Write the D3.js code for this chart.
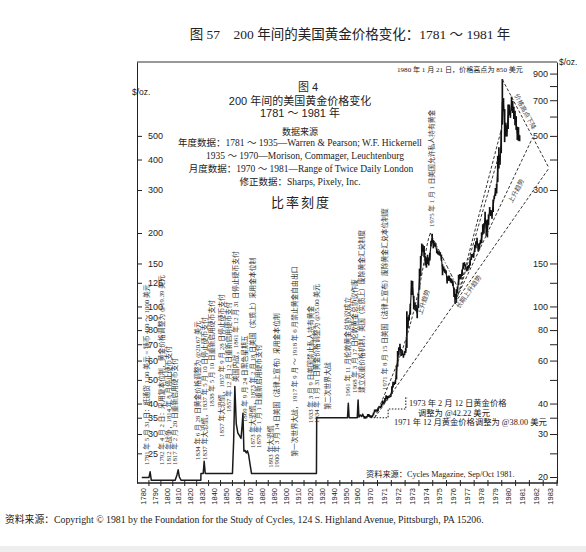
<!DOCTYPE html>
<html><head><meta charset="utf-8">
<script src="https://cdn.jsdelivr.net/npm/d3@7"></script>
<style>
body{margin:0;background:#fff}
svg{display:block}
.serif{font-family:"Liberation Serif","Noto Sans CJK SC",serif}
.sans{font-family:"Liberation Sans","Noto Sans CJK SC",sans-serif}
.axis text{font-family:"Liberation Sans",sans-serif;font-size:9px;fill:#222}
.axis path,.axis line{stroke:#222}
</style></head><body>
<script>
// price path 1780-1970, positions in the chart's own year scale
var annualYears  = [1784, 1790, 1791, 1792, 1812, 1813.5, 1814.5, 1815.5, 1817, 1833.5, 1833.6, 1835.5, 1836.3, 1837.2,
                    1860.0, 1861.0, 1862.0, 1863.2, 1864.5, 1866.0, 1867.2, 1868.2, 1868.8, 1869.6, 1870.6, 1871.6, 1872.6, 1873.6, 1874.8, 1876.0,
                    1930.4, 1930.6, 1956.4, 1957.1, 1957.8, 1964.6, 1965.3, 1966.0, 1967.2, 1968.3, 1969.2, 1970.0];
var annualPrices = [19.9, 19.9, 21.0, 19.39, 19.39, 20.4, 21.4, 20.0, 19.39, 19.39, 20.67, 20.67, 23.2, 20.67,
                    20.67, 28, 47, 33, 30.3, 29.5, 28.8, 33, 36.5, 25.5, 25.7, 25.1, 25.6, 24.6, 22.5, 20.67,
                    20.67, 35, 35, 40.1, 35, 35, 41.4, 35.2, 35.9, 35.4, 36.2, 35.2];

// monthly range Jan 1970 - Apr 1981
var monthlyLow = [
  34.9,34.9,35.0,35.5,35.5,35.3,35.1,35.3,36.0,37.0,37.3,37.3,
  37.5,38.5,38.5,38.9,39.9,40.1,40.6,42.0,41.5,42.3,42.5,42.8,
  44.0,46.8,47.9,48.4,50.5,57.0,63.5,67.0,63.0,63.6,62.0,63.5,
  64.9,68.0,82.0,88.0,93.0,112,112,98,97,96,90,99,
  118,134,162,168,160,148,145,150,148,155,177,183,
  174,177,176,166,164,163,162,155,135,140,138,137,
  125,128,128,126,125,122,110,103,104,114,123,130,
  130,134,143,147,143,140,141,144,148,156,160,159,
  168,174,181,169,172,181,183,198,200,219,196,193,
  217,240,236,230,245,277,285,292,325,370,383,427,
  559,635,474,500,500,536,610,596,637,624,590,556,
  532,484,480,478];
var monthlyHigh = [
  35.4,35.2,35.3,36.0,36.0,35.6,35.5,35.6,36.5,37.6,37.6,37.6,
  38.3,38.9,38.9,39.6,41.0,40.5,41.9,43.0,42.7,42.8,43.0,43.6,
  46.8,48.9,48.6,49.5,57.0,65.3,67.6,70.0,66.5,65.8,63.5,65.2,
  67.0,95.0,90.0,92.0,102,127,126.5,110,103,101,97.5,112,
  142,160,180,178,176,160,158,162,158,165,185,197.5,
  186,182,181,172,168,167,166,162,148,145,142,140,
  132,133,133,130,129,127,119,112,117,120,134,135,
  135,141,150,151,148,144,146,147,155,163,163,165,
  178,184,190,179,181,186,200,216,218,243,224,226,
  237,254,247,246,273,283,304,316,412,447,417,524,
  850,710,640,563,549,668,668,630,720,691,654,630,
  599,542,540,500];

var officialYears  = [1970.5, 1971.77, 1973.05, 1973.2];
var officialPrices = [35, 38, 42.22, 42.22];

var trendUp7174  = [[1970.8, 35], [1972.86, 68], [1973.93, 113], [1974.65, 185], [1974.82, 200]];
var trendDown    = [[1974.82, 200], [1976.7, 123]];
var trendLong    = [[1970.8, 35], [1983.42, 369]];
var trendUp76    = [[1976.6, 104.6], [1982.22, 490]];
var trendSteepA  = [[1976.85, 112], [1980.0, 540]];
var trendSteepB  = [[1977.0, 118], [1979.7, 400]];
var trendPeak    = [[1980.05, 850], [1983.42, 369]];

var decadeTicks = d3.range(1780, 1970, 10);
var yearTicks   = d3.range(1970, 1984);
var rightTicks  = [20,25,30,35,40,50,60,70,80,90,100,125,150,200,300,400,500,600,700,800,900];
var rightLabels = [20,30,40,60,80,100,150,300,500,700,900];
var leftTicks   = [25,30,35,40,50,60,70,80,90,100,125,150,200,300,400,500];

var noteTexts = [
  "1781 年 5 月 31 日：纸通货 1.00 美元 = 铸币 400 ～ 1000 美元",
  "1792 年 4 月 2 日：采用复本位制，黄金价格调整为 @19.39 美元",
  "1812 年战争，1814 年 8 月停止硬币支付",
  "1817 年 2 月 20 日重新启用硬币支付",
  "1834 年 6 月 28 日黄金价格调整为 @20.67 美元",
  "1837 年大恐慌，1837 年 5 月 10 日停止硬币支付",
  "1838 年 5 月 10 日重新启用硬币支付",
  "1857 年大恐慌，1857 年 9 月 28 日停止硬币支付",
  "1857 年 12 月 12 日重新启用硬币支付",
  "美国内战，1861 年 12 月 31 日停止硬币支付",
  "1869 年 9 月 24 日黑色星期五",
  "1873 年大恐慌，1873 年 2 月 18 日美国（实质上）采用金本位制",
  "1879 年 1 月 1 日重新启用硬币支付",
  "1893 年大恐慌",
  "1900 年 3 月 14 日美国（法律上宣布）采用金本位制",
  "第一次世界大战，1917 年 9 月 ～ 1918 年 6 月禁止黄金自由出口",
  "1933 年 3 月 9 日美国禁止私人持有黄金",
  "1934 年 1 月 31 日黄金价格调整为 @35.00 美元",
  "第二次世界大战",
  "1961 年 11 月伦敦黄金总协议成立",
  "1968 年 3 月 17 日伦敦黄金总协议作废",
  "建立双重价格机制，美国（实质上）废除黄金汇兑制度",
  "1971 年 8 月 15 日美国（法律上宣布）废除黄金汇兑本位制度",
  "1975 年 1 月 1 日美国允许私人持有黄金"];
var noteYears  = [1787.8, 1801.0, 1806.4, 1811.8, 1831.1, 1836.6, 1842.9, 1851.2, 1857.1, 1862.6, 1870.5, 1877.2,
                  1882.2, 1892.3, 1897.3, 1912.4, 1925.8, 1930.9, 1940.1, 1956.8, 1962.7, 1968.2, 1971.53, 1974.92];
var notePrices = [22.4, 22.4, 22.4, 22.4, 23.5, 23.5, 38.7, 29.2, 36.9, 49.0, 33.6, 26.3,
                  26.3, 21.8, 21.8, 24.2, 33.3, 33.3, 37.7, 42.6, 44.2, 44.2, 45.5, 211.7];

var W = 586, H = 552;
var svg = d3.select("body").append("svg").attr("width", W).attr("height", H);
svg.append("rect").attr("width", W).attr("height", H).attr("fill", "#fff");
svg.append("rect").attr("y", 546).attr("width", W).attr("height", 6).attr("fill", "#eeeeee");

var x = d3.scaleLinear().domain([1780, 1970, 1984]).range([137, 363.7, 557]);
var y = d3.scaleLog().domain([18.9, 1004]).range([483, 62]);

// page title
svg.append("text").attr("class", "serif").attr("x", 350).attr("y", 39)
   .attr("text-anchor", "middle").attr("font-size", 13.5).attr("fill", "#222")
   .text("图 57\u2003200 年间的美国黄金价格变化：1781 ～ 1981 年");

// frame
svg.append("line").attr("x1", 137).attr("x2", 557).attr("y1", 62).attr("y2", 62)
   .attr("stroke", "#333").attr("stroke-width", 1);
svg.append("line").attr("x1", 137).attr("x2", 557).attr("y1", 483).attr("y2", 483)
   .attr("stroke", "#222").attr("stroke-width", 1.3);

var rAxis = d3.axisLeft(y).tickValues(rightTicks).tickSize(7).tickSizeOuter(0).tickPadding(2)
   .tickFormat(function(d){ return rightLabels.indexOf(d) >= 0 ? d : ""; });
svg.append("g").attr("class", "axis").attr("transform", "translate(557,0)").call(rAxis);

var lAxis = d3.axisRight(y).tickValues(leftTicks).tickSize(5).tickSizeOuter(0).tickPadding(6)
   .tickFormat(d3.format("d"));
svg.append("g").attr("class", "axis").attr("transform", "translate(137,0)").call(lAxis);

svg.append("text").attr("class", "sans").attr("x", 132).attr("y", 95).attr("font-size", 8.5).attr("fill", "#222").text("$/oz.");
svg.append("text").attr("class", "sans").attr("x", 559).attr("y", 65).attr("font-size", 8.5).attr("fill", "#222").text("$/oz.");

// bottom axis: ticks at band edges, labels in the middle of each band
var edgeTicks = decadeTicks.slice(1).concat(yearTicks.slice(0)).concat([1984]);
svg.append("g").selectAll("line").data(edgeTicks).enter().append("line")
   .attr("x1", function(d){ return x(d); }).attr("x2", function(d){ return x(d); })
   .attr("y1", 480).attr("y2", 486).attr("stroke", "#222").attr("stroke-width", 1);

var bandLabels = decadeTicks.map(function(d){ return {v: d, m: d + 5}; })
   .concat(yearTicks.map(function(d){ return {v: d, m: d + 0.5}; }));
svg.append("g").selectAll("text").data(bandLabels).enter().append("text")
   .attr("class", "sans").attr("font-size", 7.5).attr("fill", "#222")
   .attr("text-anchor", "end")
   .attr("transform", function(d){ return "translate(" + (x(d.m) + 2.7) + ",488) rotate(-90)"; })
   .text(function(d){ return d.v; });

// header block inside the plot
var hx = 300;
var hdr = svg.append("g").attr("text-anchor", "middle").attr("fill", "#222");
hdr.append("text").attr("class", "sans").attr("x", hx + 8).attr("y", 91).attr("font-size", 11).text("图 4");
hdr.append("text").attr("class", "sans").attr("x", hx).attr("y", 105).attr("font-size", 11).text("200 年间的美国黄金价格变化");
hdr.append("text").attr("class", "sans").attr("x", hx).attr("y", 117).attr("font-size", 11).text("1781 ～ 1981 年");
hdr.append("text").attr("class", "serif").attr("x", hx).attr("y", 135).attr("font-size", 9).text("数据来源");
hdr.append("text").attr("class", "serif").attr("x", hx).attr("y", 146).attr("font-size", 9.5).text("年度数据：1781 ～ 1935—Warren & Pearson; W.F. Hickernell");
hdr.append("text").attr("class", "serif").attr("x", hx + 5).attr("y", 159).attr("font-size", 9.5).text("1935 ～ 1970—Morison, Commager, Leuchtenburg");
hdr.append("text").attr("class", "serif").attr("x", hx + 1).attr("y", 172).attr("font-size", 9.5).text("月度数据：1970 ～ 1981—Range of Twice Daily London");
hdr.append("text").attr("class", "serif").attr("x", hx).attr("y", 185).attr("font-size", 9.5).text("修正数据：Sharps, Pixely, Inc.");
hdr.append("text").attr("class", "serif").attr("x", hx + 1).attr("y", 207).attr("font-size", 13).attr("letter-spacing", 2).text("比率刻度");

// price line 1780-1970
var line = d3.line().x(function(d){ return x(d[0]); }).y(function(d){ return y(d[1]); });
var annual = annualYears.map(function(t, i){ return [t, annualPrices[i]]; });
svg.append("path").attr("d", line(annual)).attr("fill", "none")
   .attr("stroke", "#1a1a1a").attr("stroke-width", 1.5).attr("stroke-linejoin", "round");

// monthly ranges 1970-1981
var monthly = monthlyLow.map(function(lo, i){ return {t: 1970 + (i + 0.5) / 12, lo: lo, hi: monthlyHigh[i]}; });
svg.append("path")
   .attr("d", line([[1970.0, 35.2]].concat(monthly.map(function(m){ return [m.t, Math.sqrt(m.lo * m.hi)]; }))))
   .attr("fill", "none").attr("stroke", "#1a1a1a").attr("stroke-width", 1.2);
svg.append("g").selectAll("line").data(monthly).enter().append("line")
   .attr("x1", function(d){ return x(d.t); }).attr("x2", function(d){ return x(d.t); })
   .attr("y1", function(d){ return y(d.lo) + 0.6; }).attr("y2", function(d){ return y(d.hi) - 0.6; })
   .attr("stroke", "#111").attr("stroke-width", 1.7);

// official price steps
svg.append("path")
   .attr("d", d3.line().curve(d3.curveStepAfter).x(function(d){ return x(d[0]); }).y(function(d){ return y(d[1]); })
      (officialYears.map(function(t, i){ return [t, officialPrices[i]]; })))
   .attr("fill", "none").attr("stroke", "#222").attr("stroke-width", 1.1).attr("stroke-dasharray", "1.5,1.5");

// trend lines
function trend(pts, dash, curve) {
  var l = d3.line().x(function(d){ return x(d[0]); }).y(function(d){ return y(d[1]); });
  if (curve) l.curve(d3.curveCatmullRom);
  svg.append("path").attr("d", l(pts)).attr("fill", "none")
     .attr("stroke", "#333").attr("stroke-width", 1).attr("stroke-dasharray", dash);
}
trend(trendUp7174, "3,2", true);
trend(trendDown, "4,2,1,2");
trend(trendLong, "3,2");
trend(trendUp76, "3,2");
trend(trendSteepA, "3,2");
trend(trendSteepB, "3,2");
trend(trendPeak, "3,2");

var trendLabels = [["上升趋势", 1974.49, 103.4, -72], ["长期上升趋势", 1977.73, 113.4, -55],
                   ["上升趋势", 1981.19, 294.7, -62], ["价格高点下降", 1981.55, 622, 62]];
svg.append("g").selectAll("text").data(trendLabels).enter().append("text")
   .attr("class", "serif").attr("font-size", 6.5).attr("fill", "#444").attr("text-anchor", "middle")
   .attr("transform", function(d){ return "translate(" + x(d[1]) + "," + y(d[2]) + ") rotate(" + d[3] + ")"; })
   .text(function(d){ return d[0]; });

// vertical event notes
svg.append("g").selectAll("text").data(noteTexts).enter().append("text")
   .attr("class", "serif").attr("font-size", 6.8).attr("fill", "#333")
   .attr("transform", function(d, i){ return "translate(" + (x(noteYears[i]) + 2.4) + "," + y(notePrices[i]) + ") rotate(-90)"; })
   .text(function(d){ return d; });

// other annotations
var ann = svg.append("g").attr("class", "serif").attr("fill", "#222");
ann.append("text").attr("x", 397).attr("y", 72).attr("font-size", 7.1).text("1980 年 1 月 21 日，价格高点为 850 美元");
ann.append("text").attr("x", 409).attr("y", 406).attr("font-size", 8.3).text("1973 年 2 月 12 日黄金价格");
ann.append("text").attr("x", 418).attr("y", 415.5).attr("font-size", 8.3).text("调整为 @42.22 美元");
ann.append("text").attr("x", 394).attr("y", 425).attr("font-size", 8.3).text("1971 年 12 月黄金价格调整为 @38.00 美元");
ann.append("text").attr("x", 366).attr("y", 477).attr("font-size", 8.2).text("资料来源：Cycles Magazine, Sep/Oct 1981.");
ann.append("text").attr("x", 5).attr("y", 523).attr("font-size", 9.8).text("资料来源：Copyright © 1981 by the Foundation for the Study of Cycles, 124 S. Highland Avenue, Pittsburgh, PA 15206.");
</script>
</body></html>
